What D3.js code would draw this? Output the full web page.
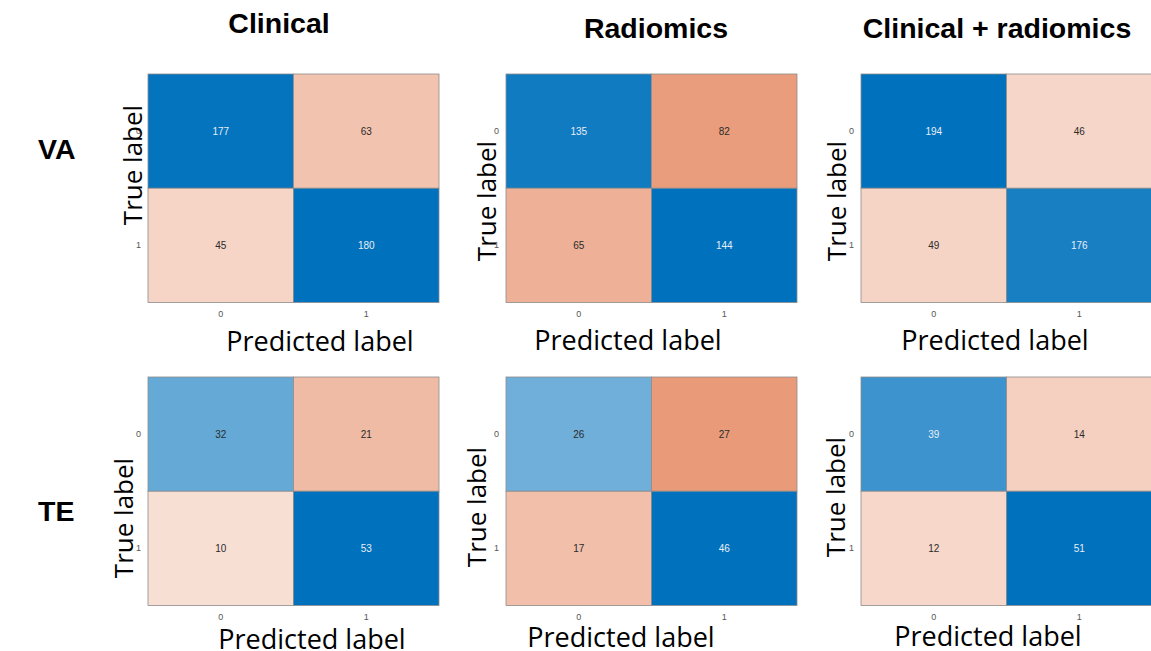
<!DOCTYPE html>
<html>
<head>
<meta charset="utf-8">
<script src="https://cdn.jsdelivr.net/npm/d3@7"></script>
<style>
  html, body { margin: 0; padding: 0; background: #fff; }
  svg { display: block; }
</style>
</head>
<body>
<svg id="chart" width="1151" height="651"></svg>
<script>
// Confusion matrices: rows = true label, columns = predicted label
const classLabels = ["0", "1"];
const models = ["Clinical", "Radiomics", "Clinical + radiomics"];
const cohorts = ["VA", "TE"];

const vaClinical  = [[177, 63], [45, 180]];
const vaRadiomics = [[135, 82], [65, 144]];
const vaCombined  = [[194, 46], [49, 176]];
const teClinical  = [[32, 21], [10, 53]];
const teRadiomics = [[26, 27], [17, 46]];
const teCombined  = [[39, 14], [12, 51]];

const matrices = [
  [vaClinical, vaRadiomics, vaCombined],
  [teClinical, teRadiomics, teCombined]
];

// Panel placement
const colLeft = [148, 506, 861];
const rowTop = [74, 377];
const boxW = 291, boxH = 228.5;
// axis title placement per panel [row][col]
const trueLabelPos = [
  [{dx: -6, cy: 165}, {dx: -10, cy: 201}, {dx: -15, cy: 201}],
  [{dx: -15, cy: 518}, {dx: -20, cy: 507}, {dx: -16, cy: 497}]
];
const predLabelPos = [
  [{cx: 320, y: 351}, {cx: 628, y: 350}, {cx: 995, y: 350}],
  [{cx: 312, y: 649}, {cx: 621, y: 647}, {cx: 988, y: 646}]
];
const titleBaseline = [33, 38, 38];
const titleCenter = [279, 656, 997];
const cohortPos = [{x: 38, y: 159}, {x: 38, y: 521}];

const diagColor = "#0072BD";
const offColor = "#D95319";

const svg = d3.select("#chart");

models.forEach((m, c) => {
  svg.append("text")
    .attr("x", titleCenter[c]).attr("y", titleBaseline[c])
    .attr("text-anchor", "middle")
    .attr("font-family", "Liberation Sans, Arial, sans-serif")
    .attr("font-weight", "bold").attr("font-size", 28.5)
    .attr("fill", "#000")
    .text(m);
});

cohorts.forEach((g, r) => {
  svg.append("text")
    .attr("x", cohortPos[r].x).attr("y", cohortPos[r].y)
    .attr("font-family", "Liberation Sans, Arial, sans-serif")
    .attr("font-weight", "bold").attr("font-size", 28.5)
    .attr("fill", "#000")
    .text(g);
});

matrices.forEach((rowMats, r) => {
  rowMats.forEach((mat, c) => {
    const x0 = colLeft[c], y0 = rowTop[r];
    const g = svg.append("g").attr("transform", `translate(${x0},${y0})`);

    const x = d3.scaleBand().domain(classLabels).range([0, boxW]);
    const y = d3.scaleBand().domain(classLabels).range([0, boxH]);

    const maxVal = d3.max(mat.flat());
    const diagScale = d3.scaleLinear().domain([0, maxVal]).range(["#ffffff", diagColor]).interpolate(d3.interpolateRgb);
    const offScale = d3.scaleLinear().domain([0, maxVal]).range(["#ffffff", offColor]).interpolate(d3.interpolateRgb);

    const cells = [];
    mat.forEach((row, i) => row.forEach((v, j) => {
      cells.push({t: classLabels[i], p: classLabels[j], v, diag: i === j});
    }));

    const fillOf = d => d.diag ? diagScale(d.v) : offScale(d.v);

    g.selectAll("rect.cell").data(cells).join("rect")
      .attr("class", "cell")
      .attr("x", d => x(d.p)).attr("y", d => y(d.t))
      .attr("width", x.bandwidth()).attr("height", y.bandwidth())
      .attr("fill", fillOf)
      .attr("stroke", "#8c8c8c").attr("stroke-width", 0.8);

    g.selectAll("text.val").data(cells).join("text")
      .attr("class", "val")
      .attr("x", d => x(d.p) + x.bandwidth() / 2)
      .attr("y", d => y(d.t) + y.bandwidth() / 2)
      .attr("dy", "0.35em")
      .attr("text-anchor", "middle")
      .attr("font-family", "Liberation Sans, Arial, sans-serif")
      .attr("font-size", 10)
      .attr("fill", d => d3.lab(fillOf(d)).l < 62 ? "#e8eef4" : "#2a2a2a")
      .text(d => d.v);

    // tick labels
    const xAxis = g.append("g").attr("transform", `translate(0,${boxH + 5})`)
      .call(d3.axisBottom(x).tickSize(0).tickPadding(3));
    const yAxis = g.append("g").attr("transform", `translate(-4,0)`)
      .call(d3.axisLeft(y).tickSize(0).tickPadding(3));
    [xAxis, yAxis].forEach(a => {
      a.select(".domain").remove();
      a.selectAll("text")
        .attr("font-family", "Liberation Sans, Arial, sans-serif")
        .attr("font-size", 9).attr("fill", "#555");
    });

    // axis titles
    const tl = trueLabelPos[r][c];
    svg.append("text")
      .attr("transform", `translate(${x0 + tl.dx},${tl.cy}) rotate(-90)`)
      .attr("text-anchor", "middle")
      .attr("font-family", "Open Sans, Noto Sans, sans-serif")
      .attr("font-size", 26).attr("fill", "#000")
      .text("True label");

    const pl = predLabelPos[r][c];
    svg.append("text")
      .attr("x", pl.cx).attr("y", pl.y)
      .attr("text-anchor", "middle")
      .attr("font-family", "Open Sans, Noto Sans, sans-serif")
      .attr("font-size", 27).attr("fill", "#000")
      .text("Predicted label");
  });
});
</script>
</body>
</html>
